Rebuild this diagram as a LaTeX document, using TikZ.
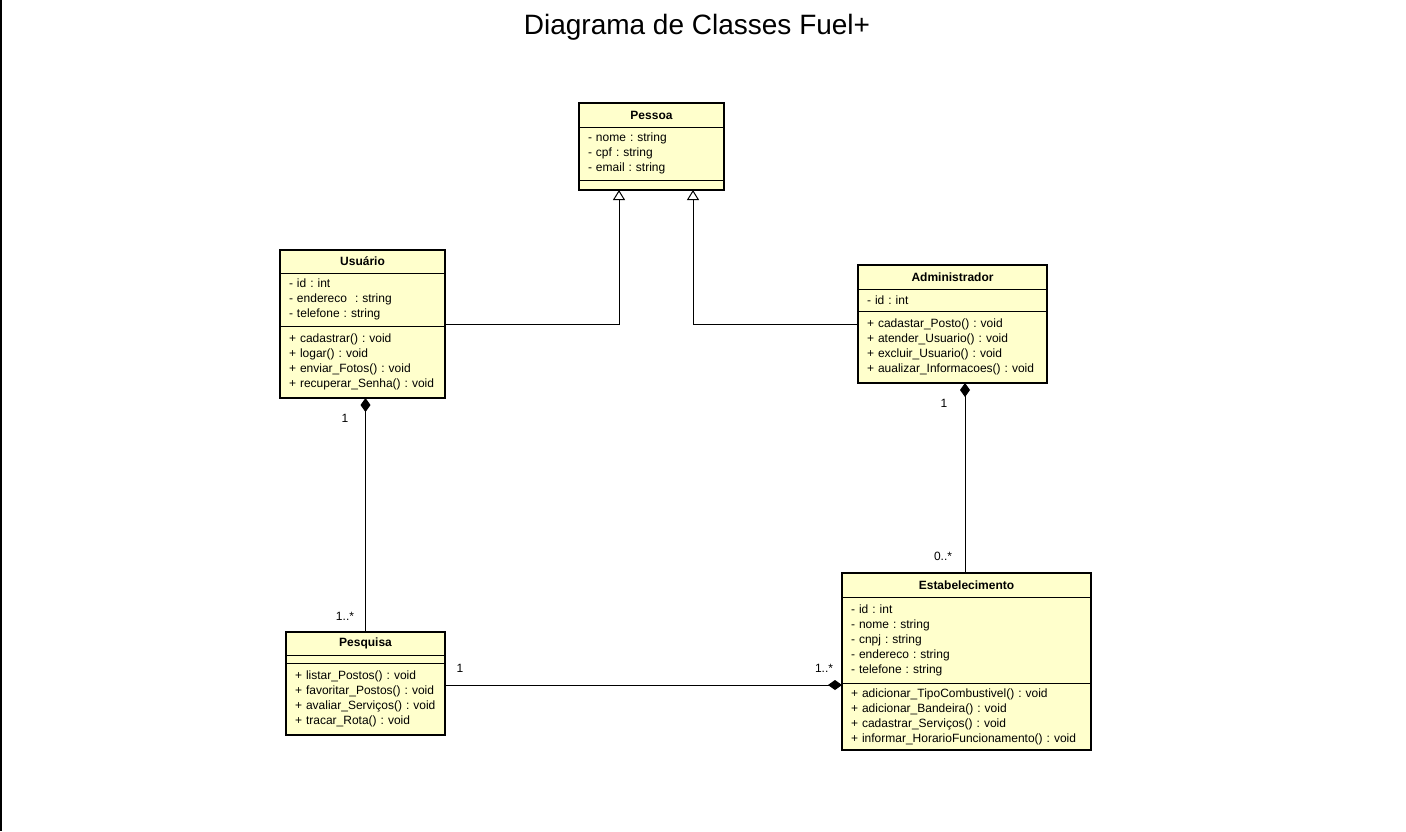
\documentclass[tikz,border=0pt]{standalone}
\usepackage{fontspec}
\setmainfont{Liberation Sans}
\usepackage{xcolor}
\usepackage{tikz}
\usetikzlibrary{positioning}
\usetikzlibrary{arrows.meta}
\definecolor{classfill}{RGB}{255,255,204}
\tikzset{
    part/.style = {rectangle, draw=black, fill=classfill, line width=1pt, outer sep=0pt, inner xsep=9pt, inner ysep=0pt, align=left, font=\fontsize{12}{15}\selectfont\frenchspacing},
    head/.style = {part, align=center, font=\fontsize{12}{15}\selectfont\bfseries},
    border/.style = {draw=black, line width=2pt},
    gen/.style = {-{Triangle[open, width=12pt, length=10pt, fill=white]}, line width=1pt},
    comp/.style = {-{Diamond[width=10pt, length=14pt]}, line width=1pt},
    mult/.style = {font=\fontsize{12}{15}\selectfont, inner sep=0pt},
}

\begin{document}
\begin{tikzpicture}[x=1pt, y=-1pt]
\useasboundingbox (0,0) rectangle (1406,831);
\draw[line width=1.5pt] (1,0) -- (1,831);
\node[font=\fontsize{28}{30}\selectfont] at (697,27) (title) {Diagrama de Classes Fuel+};
%
% Pessoa
\node[head, text width=127pt, minimum height=24pt] at (651.5,115) (pessoaH) {Pessoa};
\node[part, text width=127pt, minimum height=53pt, below=0pt of pessoaH] (pessoaA) {- nome : string\\- cpf : string\\- email : string};
\node[part, text width=127pt, minimum height=10pt, below=0pt of pessoaA] (pessoaO) {};
\draw[border] (pessoaH.north west) rectangle (pessoaO.south east);
%
% Usuario
\node[head, text width=147pt, minimum height=23pt] at (362.5,261.5) (usuarioH) {Usuário};
\node[part, text width=147pt, minimum height=53pt, below=0pt of usuarioH] (usuarioA) {- id : int\\- endereco~ : string\\- telefone : string};
\node[part, text width=147pt, minimum height=72pt, below=0pt of usuarioA] (usuarioM) {+ cadastrar() : void\\+ logar() : void\\+ enviar\_Fotos() : void\\+ recuperar\_Senha() : void};
\draw[border] (usuarioH.north west) rectangle (usuarioM.south east);
%
% Administrador
\node[head, text width=171pt, minimum height=24pt] at (952.5,277) (adminH) {Administrador};
\node[part, text width=171pt, minimum height=22pt, below=0pt of adminH] (adminA) {- id : int};
\node[part, text width=171pt, minimum height=72pt, below=0pt of adminA] (adminM) {+ cadastar\_Posto() : void\\+ atender\_Usuario() : void\\+ excluir\_Usuario() : void\\+ aualizar\_Informacoes() : void};
\draw[border] (adminH.north west) rectangle (adminM.south east);
%
% Pesquisa
\node[head, text width=141pt, minimum height=23pt] at (365.5,643.5) (pesquisaH) {Pesquisa};
\node[part, text width=141pt, minimum height=8pt, below=0pt of pesquisaH] (pesquisaA) {};
\node[part, text width=141pt, minimum height=72pt, below=0pt of pesquisaA] (pesquisaM) {+ listar\_Postos() : void\\+ favoritar\_Postos() : void\\+ avaliar\_Serviços() : void\\+ tracar\_Rota() : void};
\draw[border] (pesquisaH.north west) rectangle (pesquisaM.south east);
%
% Estabelecimento
\node[head, text width=231pt, minimum height=24pt] at (966.5,585) (estabH) {Estabelecimento};
\node[part, text width=231pt, minimum height=86pt, below=0pt of estabH] (estabA) {- id : int\\- nome : string\\- cnpj : string\\- endereco : string\\- telefone : string};
\node[part, text width=231pt, minimum height=67pt, below=0pt of estabA] (estabM) {+ adicionar\_TipoCombustivel() : void\\+ adicionar\_Bandeira() : void\\+ cadastrar\_Serviços() : void\\+ informar\_HorarioFuncionamento() : void};
\draw[border] (estabH.north west) rectangle (estabM.south east);
%
% heranca
\draw[gen] ([yshift=2pt]usuarioA.south east) -| ([xshift=-32.5pt]pessoaO.south);
\draw[gen] ([yshift=2pt]adminM.west |- usuarioA.south east) -| ([xshift=41.5pt]pessoaO.south);
%
% composicao
\draw[comp] (pesquisaH.north) -- (pesquisaH.north |- usuarioM.south);
\draw[comp] ([xshift=-1.5pt]estabH.north) -- ([xshift=-1.5pt]estabH.north |- adminM.south);
\draw[comp] ([yshift=-2pt]pesquisaM.east |- estabA.south) -- ([yshift=-2pt]estabA.south west);
%
\node[mult] at (345,418) (m1) {1};
\node[mult] at (345,616) (m2) {1..*};
\node[mult] at (944,403) (m3) {1};
\node[mult] at (943,556) (m4) {0..*};
\node[mult] at (460,668) (m5) {1};
\node[mult] at (824,668) (m6) {1..*};
\end{tikzpicture}
\end{document}
